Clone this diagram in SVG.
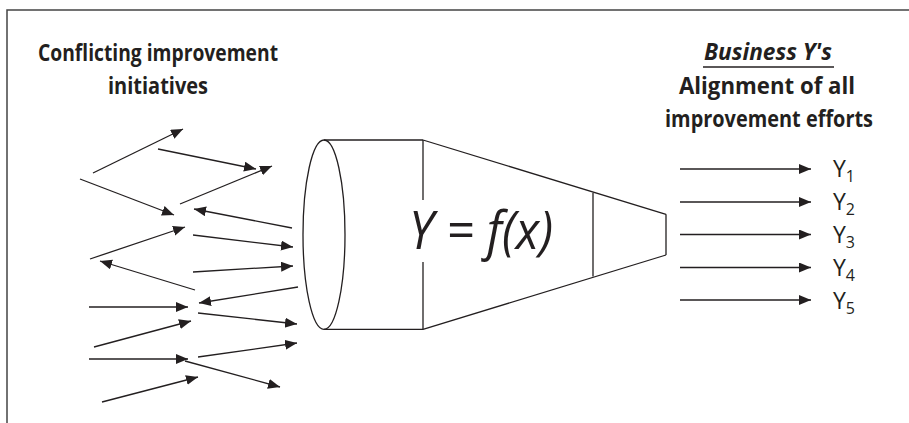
<svg xmlns="http://www.w3.org/2000/svg" width="909" height="423" viewBox="0 0 909 423">
<defs>
<marker id="ah" markerUnits="userSpaceOnUse" markerWidth="13" markerHeight="11" refX="12" refY="5" orient="auto">
<path d="M0,0 L12,5 L0,10 z" fill="#231f20"/>
</marker>
<style>
.frame{fill:none;stroke:#444;stroke-width:1.5}
.ln{fill:none;stroke:#231f20;stroke-width:1.3}
.ar{fill:none;stroke:#231f20;stroke-width:1.3;marker-end:url(#ah)}
.hd{font-family:"Open Sans","Noto Sans",sans-serif;font-weight:bold;font-size:23px;fill:#231f20;text-anchor:middle}
.eq{font-family:"Open Sans","Noto Sans",sans-serif;font-style:italic;font-size:53px;fill:#231f20}
.yl{font-family:"Open Sans","Noto Sans",sans-serif;font-size:23px;fill:#231f20}
.sub{font-size:16px}
</style>
</defs>
<rect width="909" height="423" fill="#fff"/>
<path class="frame" d="M7,423 L7,10 L909,10"/>
<g id="header-left">
<text class="hd" x="158" y="61" textLength="240" lengthAdjust="spacingAndGlyphs">Conflicting improvement</text>
<text class="hd" x="158" y="94" textLength="100" lengthAdjust="spacingAndGlyphs">initiatives</text>
</g>
<g id="header-right">
<text class="hd" x="768" y="60" font-style="italic" textLength="128" lengthAdjust="spacingAndGlyphs">Business Y's</text>
<line class="ln" x1="703" y1="67" x2="834" y2="67"/>
<text class="hd" x="767" y="94" textLength="176" lengthAdjust="spacingAndGlyphs">Alignment of all</text>
<text class="hd" x="769" y="127" textLength="208" lengthAdjust="spacingAndGlyphs">improvement efforts</text>
</g>
<g id="funnel">
<ellipse class="ln" cx="324" cy="234.7" rx="21" ry="94.7"/>
<line class="ln" x1="324" y1="140" x2="423" y2="140"/>
<line class="ln" x1="324" y1="329.4" x2="423" y2="329.4"/>
<line class="ln" x1="423" y1="140" x2="423" y2="200"/>
<line class="ln" x1="423" y1="262" x2="423" y2="329.4"/>
<line class="ln" x1="423" y1="140" x2="666" y2="214.3"/>
<line class="ln" x1="423" y1="329.4" x2="666" y2="255"/>
<line class="ln" x1="593" y1="192.7" x2="593" y2="276.5"/>
<line class="ln" x1="666" y1="214.3" x2="666" y2="255"/>
<text class="eq" x="409" y="249" textLength="144" lengthAdjust="spacingAndGlyphs">Y = f(x)</text>
</g>
<g id="outputs">
<text class="yl" x="833" y="177">Y<tspan class="sub" dy="5">1</tspan></text>
<text class="yl" x="833" y="210">Y<tspan class="sub" dy="5">2</tspan></text>
<text class="yl" x="833" y="243">Y<tspan class="sub" dy="5">3</tspan></text>
<text class="yl" x="833" y="276">Y<tspan class="sub" dy="5">4</tspan></text>
<text class="yl" x="833" y="309">Y<tspan class="sub" dy="5">5</tspan></text>
</g>
<g id="connectors">
<line class="ar" x1="93" y1="173" x2="183" y2="129"/>
<line class="ar" x1="158" y1="149" x2="256" y2="169"/>
<line class="ar" x1="180" y1="204" x2="272" y2="166"/>
<line class="ar" x1="80" y1="179" x2="174" y2="215"/>
<line class="ar" x1="292" y1="228" x2="194" y2="209"/>
<line class="ar" x1="90" y1="259" x2="185" y2="227"/>
<line class="ar" x1="193" y1="235" x2="293" y2="247"/>
<line class="ar" x1="195" y1="290" x2="100" y2="261"/>
<line class="ar" x1="193" y1="272" x2="293" y2="266"/>
<line class="ar" x1="298" y1="287" x2="199" y2="303"/>
<line class="ar" x1="89" y1="307" x2="188" y2="307"/>
<line class="ar" x1="198" y1="313" x2="297" y2="324"/>
<line class="ar" x1="94" y1="347" x2="191" y2="321"/>
<line class="ar" x1="198" y1="357" x2="297" y2="343"/>
<line class="ar" x1="89" y1="359" x2="188" y2="359"/>
<line class="ar" x1="185" y1="361" x2="280" y2="387"/>
<line class="ar" x1="102" y1="402" x2="198" y2="377"/>
<line class="ar" x1="680" y1="169" x2="811" y2="169"/>
<line class="ar" x1="680" y1="202" x2="811" y2="202"/>
<line class="ar" x1="680" y1="234.5" x2="811" y2="234.5"/>
<line class="ar" x1="680" y1="267.5" x2="811" y2="267.5"/>
<line class="ar" x1="680" y1="300" x2="811" y2="300"/>
</g>
</svg>
